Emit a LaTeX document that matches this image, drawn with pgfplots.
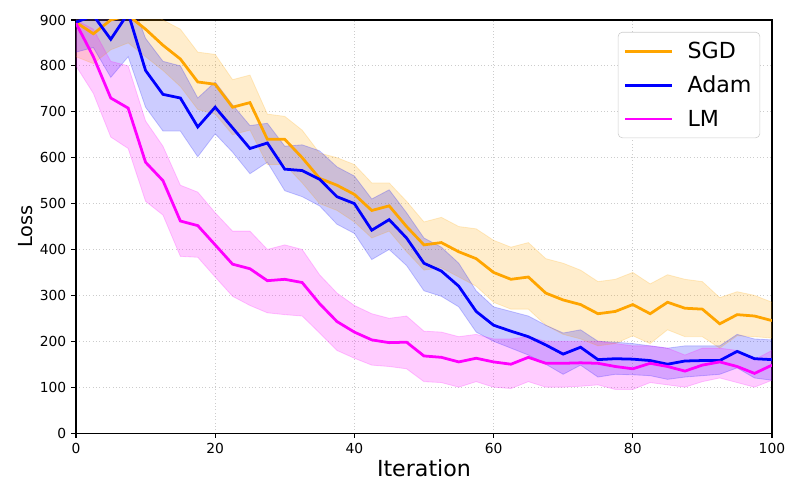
\documentclass[border=0pt]{standalone}
\usepackage{fontspec}
\setmainfont{DejaVu Sans}
\usepackage{pgfplots}
\usepackage{pgfplotstable}
\pgfplotsset{compat=1.18}
\usepgfplotslibrary{fillbetween}

\definecolor{mplorange}{RGB}{255,165,0}
\definecolor{mplblue}{RGB}{0,0,255}
\definecolor{mplmagenta}{RGB}{255,0,255}

% x  mean  lo  hi
\pgfplotstableread{
x mean lo hi
0 895 820 960
2.5 870 805 950
5 900 835 960
7.5 910 850 965
10 880 820 930
12.5 845 790 900
15 815 755 880
17.5 765 705 830
20 760 695 825
22.5 710 650 770
25 720 660 780
27.5 640 585 695
30 640 585 690
32.5 600 545 660
35 555 500 610
37.5 540 485 600
40 520 460 585
42.5 485 425 545
45 495 440 545
47.5 450 395 505
50 410 355 460
52.5 415 360 470
55 395 340 450
57.5 380 320 445
60 350 285 420
62.5 335 270 405
65 340 270 415
67.5 305 235 380
70 290 215 370
72.5 280 205 355
75 260 190 330
77.5 265 195 335
80 280 212 350
82.5 260 195 325
85 285 225 345
87.5 272 210 335
90 270 210 330
92.5 238 185 295
95 258 212 308
97.5 255 210 300
100 245 207 285
}\sgd

\pgfplotstableread{
x mean lo hi
0 895 830 960
2.5 910 840 970
5 858 775 930
7.5 915 820 960
10 790 710 860
12.5 738 658 810
15 730 658 800
17.5 667 602 730
20 710 652 765
22.5 665 612 715
25 620 565 670
27.5 632 590 675
30 575 528 625
32.5 572 515 628
35 553 495 615
37.5 515 455 580
40 500 435 560
42.5 442 378 510
45 465 400 530
47.5 425 365 480
50 370 310 425
52.5 353 298 405
55 320 275 370
57.5 265 220 310
60 235 200 275
62.5 222 185 265
65 210 170 255
67.5 192 150 235
70 172 128 218
72.5 187 148 225
75 160 122 200
77.5 162 128 198
80 161 127 195
82.5 158 125 190
85 150 117 185
87.5 157 122 190
90 158 125 190
92.5 158 128 190
95 178 142 215
97.5 162 120 205
100 160 115 203
}\adam

\pgfplotstableread{
x mean lo hi
0 893 800 900
2.5 820 740 880
5 730 645 810
7.5 708 620 800
10 590 505 680
12.5 550 475 625
15 462 385 540
17.5 452 383 525
20 410 340 480
22.5 368 298 440
25 358 278 440
27.5 332 262 400
30 335 258 410
32.5 328 255 400
35 282 218 345
37.5 243 180 305
40 220 163 278
42.5 203 148 260
45 197 145 250
47.5 198 140 255
50 168 112 222
52.5 165 110 220
55 155 100 210
57.5 163 112 215
60 155 100 205
62.5 150 97 205
65 165 112 210
67.5 152 100 200
70 152 100 200
72.5 153 102 200
75 152 105 200
77.5 145 95 195
80 140 95 190
82.5 152 110 190
85 145 105 185
87.5 135 100 170
90 148 112 185
92.5 155 120 185
95 145 110 180
97.5 130 100 160
100 148 115 180
}\lm

\begin{document}
\begin{tikzpicture}
\begin{axis}[
    at={(0,0)}, anchor=south west,
    scale only axis,
    width=501.1bp, height=297.4bp,
    xmin=0, xmax=100, ymin=0, ymax=900,
    xtick={0,20,40,60,80,100},
    ytick={0,100,...,900},
    tick align=outside,
    xtick pos=left, ytick pos=left,
    major tick length=3.5bp,
    tick style={black, line width=0.8pt},
    axis line style={line width=0.8pt},
    grid=major,
    grid style={dotted, line width=0.6pt, black!20},
    ticklabel style={font=\fontsize{10}{12}\selectfont},
    /pgf/number format/assume math mode=true,
    xlabel={Iteration},
    ylabel={Loss},
    xlabel style={font=\fontsize{16}{19}\selectfont, yshift=2bp},
    ylabel style={font=\fontsize{14}{17}\selectfont, yshift=-2bp},
    legend style={at={(0.983,0.971)}, anchor=north east,
        draw=black!20, rounded corners=3pt,
        font=\fontsize{16}{19}\selectfont,
        inner xsep=4bp, inner ysep=5bp,
        row sep=7bp, column sep=8bp},
    legend cell align=left,
    legend image code/.code={\draw[#1, line width=2pt] (0bp,0bp) -- (34bp,0bp);},
]
% bands
\addplot[name path=sgdhi, mplorange, opacity=0.2, line width=0.6pt, forget plot] table[x=x, y=hi] {\sgd};
\addplot[name path=sgdlo, mplorange, opacity=0.2, line width=0.6pt, forget plot] table[x=x, y=lo] {\sgd};
\addplot[mplorange, fill opacity=0.2, draw=none, forget plot] fill between[of=sgdhi and sgdlo];
\addplot[name path=adamhi, mplblue, opacity=0.2, line width=0.6pt, forget plot] table[x=x, y=hi] {\adam};
\addplot[name path=adamlo, mplblue, opacity=0.2, line width=0.6pt, forget plot] table[x=x, y=lo] {\adam};
\addplot[mplblue, fill opacity=0.2, draw=none, forget plot] fill between[of=adamhi and adamlo];
\addplot[name path=lmhi, mplmagenta, opacity=0.2, line width=0.6pt, forget plot] table[x=x, y=hi] {\lm};
\addplot[name path=lmlo, mplmagenta, opacity=0.2, line width=0.6pt, forget plot] table[x=x, y=lo] {\lm};
\addplot[mplmagenta, fill opacity=0.2, draw=none, forget plot] fill between[of=lmhi and lmlo];
% means
\addplot[mplorange, line width=2pt] table[x=x, y=mean] {\sgd};
\addplot[mplblue, line width=2pt] table[x=x, y=mean] {\adam};
\addplot[mplmagenta, line width=2pt] table[x=x, y=mean] {\lm};
\legend{SGD, Adam, LM}
\end{axis}
\pgfresetboundingbox
\path[use as bounding box] (-54.7bp,-48.2bp) rectangle (521.3bp,311.8bp);
\end{tikzpicture}
\end{document}
